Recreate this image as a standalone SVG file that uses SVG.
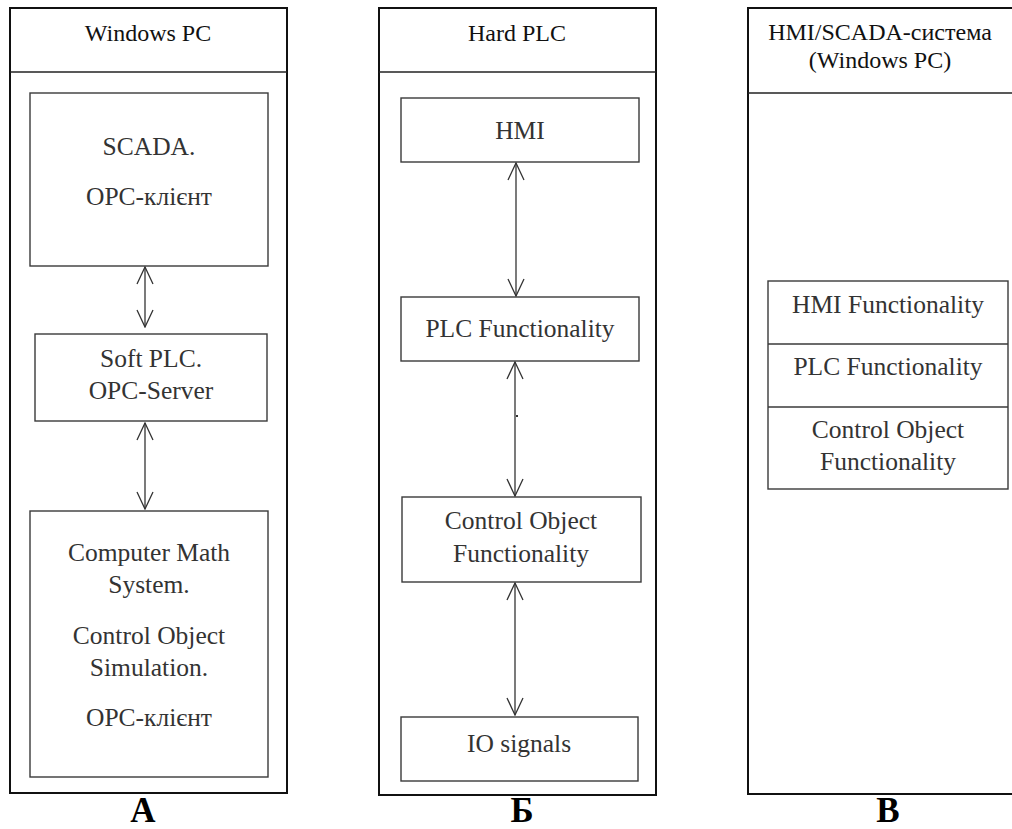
<svg xmlns="http://www.w3.org/2000/svg" width="1012" height="829" viewBox="0 0 1012 829">
<style>
  .outer { fill: none; stroke: #111; stroke-width: 2; }
  .box { fill: none; stroke: #3a3a3a; stroke-width: 1.4; }
  .sep { stroke: #222; stroke-width: 1.6; }
  .t { font-family: "Liberation Serif", "Times New Roman", serif; font-size: 25.5px; fill: #333; text-anchor: middle; }
  .h { font-family: "Liberation Serif", "Times New Roman", serif; font-size: 24px; fill: #111; text-anchor: middle; }
  .lbl { font-family: "Liberation Serif", "Times New Roman", serif; font-size: 35px; font-weight: bold; fill: #000; text-anchor: middle; }
  .conn { stroke: #333; stroke-width: 1.3; fill: none; marker-start: url(#ah); marker-end: url(#ah); }
</style>
<defs>
  <marker id="ah" viewBox="0 0 20 20" refX="19" refY="10" markerWidth="20" markerHeight="20" markerUnits="userSpaceOnUse" orient="auto-start-reverse">
    <path d="M2,2 L19,10 L2,18" fill="none" stroke="#333" stroke-width="1.3"/>
  </marker>
</defs>
<rect width="1012" height="829" fill="#fff"/>

<g id="panelA">
  <rect class="outer" x="10" y="8" width="277" height="785"/>
  <line class="sep" x1="10" y1="72" x2="287" y2="72"/>
  <text class="h" x="148" y="41">Windows PC</text>
</g>
<g id="scada">
  <rect class="box" x="30" y="93" width="238" height="173"/>
  <text class="t" x="149" y="155">SCADA.</text>
  <text class="t" x="149" y="205">OPC-клієнт</text>
</g>
<g id="softplc">
  <rect class="box" x="35" y="334" width="232" height="87"/>
  <text class="t" x="151" y="367">Soft PLC.</text>
  <text class="t" x="151" y="399">OPC-Server</text>
</g>
<g id="cms">
  <rect class="box" x="30" y="511" width="238" height="266"/>
  <text class="t" x="149" y="561">Computer Math</text>
  <text class="t" x="149" y="593">System.</text>
  <text class="t" x="149" y="644">Control Object</text>
  <text class="t" x="149" y="676">Simulation.</text>
  <text class="t" x="149" y="726">OPC-клієнт</text>
</g>
<text id="labelA" class="lbl" x="143" y="822">А</text>

<g id="panelB">
  <rect class="outer" x="379" y="8" width="277" height="787"/>
  <line class="sep" x1="379" y1="72" x2="656" y2="72"/>
  <text class="h" x="517" y="41">Hard PLC</text>
</g>
<g id="hmi">
  <rect class="box" x="401" y="98" width="238" height="64"/>
  <text class="t" x="520" y="139">HMI</text>
</g>
<g id="plcf">
  <rect class="box" x="401" y="297" width="238" height="64"/>
  <text class="t" x="520" y="337">PLC Functionality</text>
</g>
<g id="cof">
  <rect class="box" x="402" y="497" width="239" height="85"/>
  <text class="t" x="521" y="529">Control Object</text>
  <text class="t" x="521" y="562">Functionality</text>
</g>
<g id="io">
  <rect class="box" x="401" y="717" width="237" height="64"/>
  <text class="t" x="519" y="752">IO signals</text>
</g>
<text id="labelB" class="lbl" x="522" y="822">Б</text>

<g id="panelC">
  <rect class="outer" x="748" y="8" width="270" height="786"/>
  <line class="sep" x1="748" y1="93" x2="1012" y2="93"/>
  <text class="h" x="880" y="40">HMI/SCADA-система</text>
  <text class="h" x="880" y="68">(Windows PC)</text>
</g>
<g id="stack">
  <rect class="box" x="768" y="281" width="240" height="208"/>
  <line class="box" x1="768" y1="344" x2="1008" y2="344"/>
  <line class="box" x1="768" y1="407" x2="1008" y2="407"/>
  <text class="t" x="888" y="313">HMI Functionality</text>
  <text class="t" x="888" y="375">PLC Functionality</text>
  <text class="t" x="888" y="438">Control Object</text>
  <text class="t" x="888" y="470">Functionality</text>
</g>
<text id="labelC" class="lbl" x="888" y="822">В</text>

<g id="connectors">
  <line class="conn" x1="145" y1="267" x2="145" y2="327"/>
  <line class="conn" x1="145" y1="423" x2="145" y2="509"/>
  <line class="conn" x1="516" y1="163" x2="516" y2="296"/>
  <line class="conn" x1="515" y1="362" x2="515" y2="496"/>
  <line class="conn" x1="515" y1="583" x2="515" y2="715"/>
  <rect x="516" y="415" width="2" height="2" fill="#333"/>
</g>
</svg>
